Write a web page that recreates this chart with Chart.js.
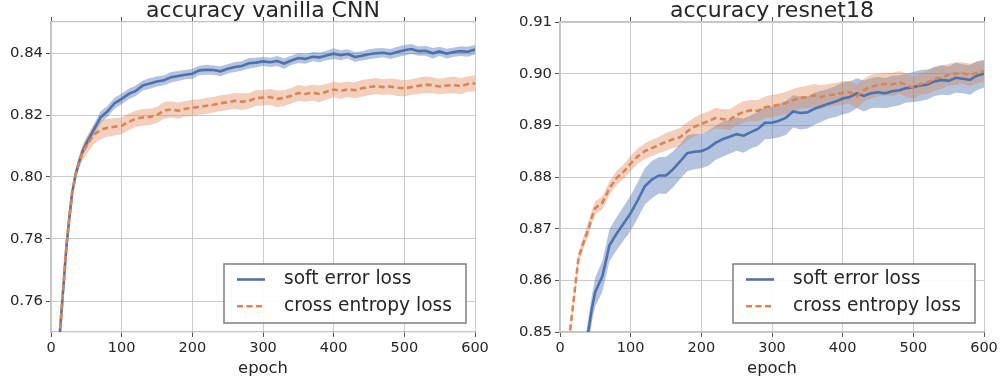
<!DOCTYPE html>
<html>
<head>
<meta charset="utf-8">
<script src="https://cdn.jsdelivr.net/npm/chart.js@4.4.1/dist/chart.umd.min.js"></script>
<style>
  html, body { margin: 0; padding: 0; background: #fff; }
  #wrap { position: relative; width: 1000px; height: 383px; }
  .panel { position: absolute; top: 0; width: 500px; height: 383px; }
</style>
</head>
<body>
<div id="wrap">
  <div class="panel" style="left:0"><canvas id="chart-cnn" width="500" height="383"></canvas></div>
  <div class="panel" style="left:500px"><canvas id="chart-resnet" width="500" height="383"></canvas></div>
</div>
<script>
const X_TICKS = [0, 100, 200, 300, 400, 500, 600];
const Y_TICKS_CNN = [0.76, 0.78, 0.80, 0.82, 0.84];
const Y_TICKS_RESNET = [0.85, 0.86, 0.87, 0.88, 0.89, 0.90, 0.91];
const LEGEND_LABELS = ["soft error loss", "cross entropy loss"];
const TITLES = ["accuracy vanilla CNN", "accuracy resnet18"];

// vanilla CNN
const EPOCHS_CNN = [10, 13, 16, 19, 22, 26, 30, 35, 40, 45, 50,
  60, 70, 80, 90, 100, 110, 120, 130, 140, 150,
  160, 170, 180, 190, 200, 210, 220, 230, 240, 250,
  260, 270, 280, 290, 300, 310, 320, 330, 340, 350,
  360, 370, 380, 390, 400, 410, 420, 430, 440, 450,
  460, 470, 480, 490, 500, 510, 520, 530, 540, 550,
  560, 570, 580, 590, 600];
const CNN_SOFT = [0.742, 0.751, 0.760, 0.769, 0.778, 0.787, 0.795, 0.801, 0.805, 0.8085, 0.8108,
  0.8150, 0.8192, 0.8212, 0.8238, 0.8252, 0.8268, 0.8278, 0.8295, 0.8302, 0.8308,
  0.8312, 0.8322, 0.8326, 0.8330, 0.8333, 0.8344, 0.8346, 0.8345, 0.8341, 0.8349,
  0.8355, 0.8358, 0.8367, 0.8369, 0.8373, 0.8370, 0.8374, 0.8366, 0.8376, 0.8384,
  0.8381, 0.8388, 0.8386, 0.8392, 0.8398, 0.8393, 0.8397, 0.8387, 0.8391, 0.8396,
  0.8399, 0.8401, 0.8397, 0.8403, 0.8409, 0.8413, 0.8406, 0.8407, 0.8399, 0.8405,
  0.8398, 0.8403, 0.8406, 0.8404, 0.8411];
const CNN_SOFT_BAND = [0.0006, 0.0006, 0.0006, 0.0006, 0.0007, 0.0008, 0.0009, 0.0010, 0.0012, 0.0014, 0.0016,
  0.0018, 0.0019, 0.0018, 0.0018, 0.0017, 0.0017, 0.0017, 0.0016, 0.0017, 0.0016,
  0.0016, 0.0017, 0.0016, 0.0015, 0.0016, 0.0015, 0.0016, 0.0015, 0.0016, 0.0015,
  0.0016, 0.0015, 0.0017, 0.0016, 0.0015, 0.0015, 0.0016, 0.0017, 0.0015, 0.0016,
  0.0016, 0.0015, 0.0016, 0.0015, 0.0017, 0.0016, 0.0015, 0.0016, 0.0015, 0.0016,
  0.0016, 0.0015, 0.0016, 0.0017, 0.0017, 0.0016, 0.0015, 0.0016, 0.0017, 0.0015,
  0.0016, 0.0015, 0.0016, 0.0016, 0.0015];
const CNN_CE = [0.742, 0.751, 0.760, 0.769, 0.778, 0.787, 0.795, 0.801, 0.805, 0.8080, 0.8100,
  0.8135, 0.8152, 0.8159, 0.8162, 0.8165, 0.8178, 0.8188, 0.8192, 0.8194, 0.8200,
  0.8215, 0.8218, 0.8214, 0.8220, 0.8223, 0.8226, 0.8230, 0.8233, 0.8238, 0.8241,
  0.8246, 0.8243, 0.8245, 0.8255, 0.8256, 0.8258, 0.8252, 0.8255, 0.8262, 0.8271,
  0.8268, 0.8272, 0.8268, 0.8275, 0.8282, 0.8278, 0.8283, 0.8280, 0.8286, 0.8290,
  0.8293, 0.8290, 0.8292, 0.8288, 0.8286, 0.8290, 0.8294, 0.8298, 0.8296, 0.8292,
  0.8295, 0.8297, 0.8293, 0.8300, 0.8302];
const CNN_CE_BAND = [0.0006, 0.0006, 0.0007, 0.0008, 0.0009, 0.0011, 0.0014, 0.0018, 0.0022, 0.0026, 0.0028,
  0.0030, 0.0030, 0.0029, 0.0028, 0.0027, 0.0027, 0.0026, 0.0027, 0.0026, 0.0026,
  0.0027, 0.0026, 0.0026, 0.0025, 0.0026, 0.0025, 0.0026, 0.0025, 0.0026, 0.0025,
  0.0026, 0.0027, 0.0025, 0.0026, 0.0025, 0.0026, 0.0027, 0.0026, 0.0025, 0.0026,
  0.0025, 0.0026, 0.0027, 0.0026, 0.0025, 0.0026, 0.0025, 0.0026, 0.0027, 0.0026,
  0.0026, 0.0025, 0.0026, 0.0027, 0.0026, 0.0025, 0.0026, 0.0027, 0.0026, 0.0025,
  0.0026, 0.0027, 0.0026, 0.0025, 0.0026];

// resnet18
const EPOCHS_RESNET = [10, 14, 20, 26, 30, 35, 40, 45, 50,
  60, 70, 80, 90, 100, 110, 120, 130, 140, 150,
  160, 170, 180, 190, 200, 210, 220, 230, 240, 250,
  260, 270, 280, 290, 300, 310, 320, 330, 340, 350,
  360, 370, 380, 390, 400, 410, 420, 430, 440, 450,
  460, 470, 480, 490, 500, 510, 520, 530, 540, 550,
  560, 570, 580, 590, 600];
const RESNET_SOFT = [0.825, 0.830, 0.835, 0.839, 0.842, 0.846, 0.850, 0.8545, 0.8578,
  0.8608, 0.8668, 0.8690, 0.8710, 0.8730, 0.8755, 0.8782, 0.8795, 0.8803, 0.8803,
  0.8815, 0.8830, 0.8846, 0.8849, 0.8850, 0.8856, 0.8866, 0.8873, 0.8878, 0.8883,
  0.8880, 0.8887, 0.8893, 0.8905, 0.8905, 0.8909, 0.8915, 0.8927, 0.8924, 0.8925,
  0.8932, 0.8937, 0.8942, 0.8946, 0.8952, 0.8955, 0.8962, 0.8957, 0.8962, 0.8964,
  0.8962, 0.8966, 0.8968, 0.8972, 0.8974, 0.8977, 0.8979, 0.8985, 0.8988, 0.8986,
  0.8992, 0.8990, 0.8988, 0.8996, 0.9000];
const RESNET_SOFT_BAND = [0.0018, 0.0018, 0.0019, 0.0020, 0.0021, 0.0022, 0.0024, 0.0026, 0.0028,
  0.0030, 0.0031, 0.0032, 0.0033, 0.0034, 0.0035, 0.0035, 0.0036, 0.0035, 0.0036,
  0.0035, 0.0034, 0.0035, 0.0034, 0.0033, 0.0034, 0.0033, 0.0034, 0.0033, 0.0032,
  0.0033, 0.0032, 0.0033, 0.0032, 0.0031, 0.0032, 0.0033, 0.0031, 0.0032, 0.0031,
  0.0031, 0.0030, 0.0029, 0.0030, 0.0031, 0.0030, 0.0029, 0.0030, 0.0029, 0.0030,
  0.0029, 0.0030, 0.0029, 0.0028, 0.0029, 0.0030, 0.0029, 0.0028, 0.0029, 0.0028,
  0.0029, 0.0028, 0.0029, 0.0028, 0.0027];
const RESNET_CE = [0.843, 0.850, 0.857, 0.8641, 0.8660, 0.8680, 0.8698, 0.8722, 0.8740,
  0.8750, 0.8778, 0.8798, 0.8810, 0.8826, 0.8840, 0.8850, 0.8856, 0.8862, 0.8868,
  0.8873, 0.8877, 0.8888, 0.8897, 0.8903, 0.8908, 0.8914, 0.8912, 0.8911, 0.8920,
  0.8926, 0.8929, 0.8928, 0.8935, 0.8937, 0.8940, 0.8943, 0.8949, 0.8953, 0.8955,
  0.8958, 0.8955, 0.8958, 0.8960, 0.8963, 0.8964, 0.8956, 0.8968, 0.8975, 0.8978,
  0.8980, 0.8979, 0.8983, 0.8978, 0.8973, 0.8980, 0.8983, 0.8990, 0.8993, 0.8998,
  0.9000, 0.9001, 0.8997, 0.9002, 0.9005];
const RESNET_CE_BAND = [0.0008, 0.0009, 0.0010, 0.0011, 0.0012, 0.0012, 0.0013, 0.0013, 0.0013,
  0.0013, 0.0013, 0.0014, 0.0014, 0.0015, 0.0015, 0.0015, 0.0016, 0.0016, 0.0017,
  0.0017, 0.0018, 0.0018, 0.0018, 0.0019, 0.0019, 0.0020, 0.0019, 0.0020, 0.0020,
  0.0021, 0.0020, 0.0021, 0.0021, 0.0022, 0.0021, 0.0022, 0.0022, 0.0021, 0.0022,
  0.0022, 0.0023, 0.0022, 0.0022, 0.0023, 0.0022, 0.0023, 0.0022, 0.0023, 0.0022,
  0.0022, 0.0023, 0.0022, 0.0023, 0.0022, 0.0021, 0.0022, 0.0023, 0.0022, 0.0021,
  0.0022, 0.0021, 0.0022, 0.0021, 0.0020];

const BLUE = "#4c72b0";
const ORANGE = "#dd8452";
const BLUE_BAND = "rgba(76,114,176,0.42)";
const ORANGE_BAND = "rgba(221,132,82,0.38)";
const TEXT = "#262626";
const GRID = "#cbcbcb";
const SPINE = "#c4c4c4";
const TICK = "#555555";

Chart.defaults.font.family = "'DejaVu Sans', sans-serif";

// legend box in the lower right corner of the plot, like matplotlib's
const boxLegend = {
  id: "boxLegend",
  afterDraw(chart) {
    const { ctx, chartArea } = chart;
    const items = chart.data.datasets.filter(ds => ds.label);
    const w = 242, h = 59;
    const left = chartArea.right - 9 - w;
    const top = chartArea.bottom - 9 - h;
    ctx.save();
    ctx.fillStyle = "rgba(255,255,255,0.92)";
    ctx.fillRect(left, top, w, h);
    ctx.strokeStyle = "#7f7f7f";
    ctx.lineWidth = 1.5;
    ctx.strokeRect(left, top, w, h);
    ctx.font = "18.6px 'DejaVu Sans'";
    ctx.textBaseline = "middle";
    items.forEach((ds, i) => {
      const y = top + 15.5 + i * 26.7;
      ctx.strokeStyle = ds.borderColor;
      ctx.lineWidth = ds.borderWidth;
      ctx.setLineDash(ds.borderDash || []);
      ctx.beginPath();
      ctx.moveTo(left + 13, y);
      ctx.lineTo(left + 41, y);
      ctx.stroke();
      ctx.setLineDash([]);
      ctx.fillStyle = TEXT;
      ctx.fillText(ds.label, left + 60, y);
    });
    ctx.restore();
  }
};

function points(epochs, values, half, sign) {
  return epochs.map((x, i) => ({ x, y: half ? values[i] + sign * half[i] : values[i] }));
}

function buildDatasets(epochs, soft, softBand, ce, ceBand) {
  const band = { borderColor: "transparent", borderWidth: 0, pointRadius: 0 };
  return [
    { ...band, data: points(epochs, soft, softBand, -1), fill: false, order: 5 },
    { ...band, data: points(epochs, soft, softBand, 1), backgroundColor: BLUE_BAND, fill: "-1", order: 4 },
    { ...band, data: points(epochs, ce, ceBand, -1), fill: false, order: 3 },
    { ...band, data: points(epochs, ce, ceBand, 1), backgroundColor: ORANGE_BAND, fill: "-1", order: 2 },
    { label: LEGEND_LABELS[0], data: points(epochs, soft), borderColor: BLUE, borderWidth: 2.6, pointRadius: 0, fill: false, order: 1 },
    { label: LEGEND_LABELS[1], data: points(epochs, ce), borderColor: ORANGE, borderWidth: 2.6, borderDash: [6, 3.5], pointRadius: 0, fill: false, order: 0 }
  ];
}

function buildOptions(title, yMin, yMax, yTicks, yWidth, padRight) {
  return {
    responsive: false,
    animation: false,
    layout: { padding: { left: 0, right: padRight, top: 0, bottom: 0 } },
    plugins: {
      legend: { display: false },
      tooltip: { enabled: false },
      title: { display: true, text: title, fullSize: false, color: TEXT, font: { size: 22, weight: "normal", lineHeight: 1 }, padding: 0 }
    },
    scales: {
      x: {
        type: "linear", min: 0, max: 600,
        afterBuildTicks: s => { s.ticks = X_TICKS.map(value => ({ value })); },
        afterFit: s => { s.height = 51; s.paddingLeft = 0; s.paddingRight = 0; },
        ticks: { color: TEXT, font: { size: 14.5 }, padding: 3, maxRotation: 0 },
        grid: { color: GRID, tickColor: TICK, tickLength: 5 },
        border: { color: SPINE, width: 1.25 },
        title: { display: true, text: "epoch", color: TEXT, font: { size: 16.4 }, padding: { top: 0, bottom: 4 } }
      },
      xTop: {
        type: "linear", position: "top", min: 0, max: 600,
        afterBuildTicks: s => { s.ticks = X_TICKS.map(value => ({ value })); },
        afterFit: s => { s.height = 0; s.paddingLeft = 0; s.paddingRight = 0; },
        ticks: { display: false },
        grid: { drawOnChartArea: false, tickColor: TICK, tickLength: 5 },
        border: { color: SPINE, width: 1.25 }
      },
      y: {
        type: "linear", min: yMin, max: yMax,
        afterBuildTicks: s => { s.ticks = yTicks.map(value => ({ value })); },
        afterFit: s => { s.width = yWidth; s.paddingTop = 0; s.paddingBottom = 0; },
        ticks: { color: TEXT, font: { size: 14.8 }, padding: 3, callback: v => v.toFixed(2) },
        grid: { color: GRID, tickColor: TICK, tickLength: 5 },
        border: { color: SPINE, width: 1.25 }
      }
    }
  };
}

new Chart(document.getElementById("chart-cnn"), {
  type: "line",
  data: { datasets: buildDatasets(EPOCHS_CNN, CNN_SOFT, CNN_SOFT_BAND, CNN_CE, CNN_CE_BAND) },
  options: buildOptions(TITLES[0], 0.75, 0.85, Y_TICKS_CNN, 51, 25),
  plugins: [boxLegend]
});

new Chart(document.getElementById("chart-resnet"), {
  type: "line",
  data: { datasets: buildDatasets(EPOCHS_RESNET, RESNET_SOFT, RESNET_SOFT_BAND, RESNET_CE, RESNET_CE_BAND) },
  options: buildOptions(TITLES[1], 0.85, 0.91, Y_TICKS_RESNET, 60, 16),
  plugins: [boxLegend]
});
</script>
</body>
</html>
